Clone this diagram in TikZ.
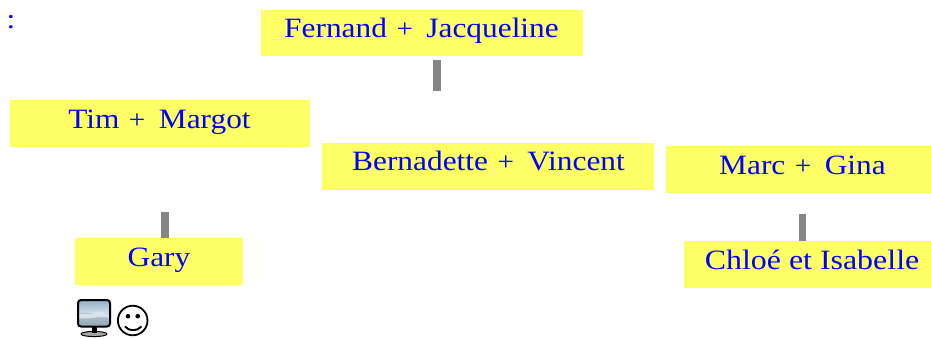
\documentclass[tikz,border=0pt]{standalone}
\usepackage{fontspec}
\setmainfont{Liberation Serif}
\newfontfamily\widefont[FakeStretch=1.12]{Liberation Serif}
\newcommand{\plusgap}{\hspace{9.5pt}{\fontsize{26}{30}\selectfont+}\hspace{13.5pt}}
\definecolor{boxy}{HTML}{FFFF66}
\definecolor{barg}{HTML}{868686}
\definecolor{sTop}{HTML}{8FAFC6}
\definecolor{sMid}{HTML}{D5E2EA}
\definecolor{sLow}{HTML}{B5C6D2}
\definecolor{sBot}{HTML}{8FA6B6}
\tikzset{
  x=1pt,y=-1pt,
  fam/.style={fill=boxy,draw=none,inner sep=0pt,anchor=north west},
  lab/.style={inner sep=0pt,text=blue,anchor=base,font=\widefont\fontsize{28}{30}\selectfont},
  bar/.style={draw=barg,line width=7.5pt}
}
\begin{document}
\begin{tikzpicture}
\useasboundingbox (0,0) rectangle (931,338);
\node[fam,minimum width=322pt,minimum height=46pt] (fj) at (261,9.5) {};
\node[lab] at (421.5,37) {Fernand\plusgap Jacqueline};
\node[fam,minimum width=300pt,minimum height=47pt] (tm) at (10,100) {};
\node[lab] at (159.5,128) {Tim\plusgap Margot};
\node[fam,minimum width=332pt,minimum height=47pt] (bv) at (322,143) {};
\node[lab] at (488.5,170) {Bernadette\plusgap Vincent};
\node[fam,minimum width=265pt,minimum height=47pt] (mg) at (666,146) {};
\node[lab] at (802.5,174) {Marc\plusgap Gina};
\node[fam,minimum width=168pt,minimum height=47pt] (ga) at (75,238) {};
\node[lab] at (159,266) {Gary};
\node[fam,minimum width=247pt,minimum height=47pt] (ci) at (684,241) {};
\node[lab] at (812,269) {\addfontfeature{FakeStretch=1.14}Chloé et Isabelle};
\coordinate (a1) at (437,60);
\coordinate (a2) at (437,91);
\draw[bar] (a1) -- (a2);
\coordinate (b1) at (165,212);
\coordinate (b2) at (165,238);
\draw[bar] (b1) -- (b2);
\coordinate (c1) at (802.5,214);
\coordinate (c2) at (802.5,241);
\draw[bar] (c1) -- (c2);
\node[lab] (col) at (11,28.5) {:};
% smiley icon
\draw[black,line width=1.8pt] (132.7,320.5) circle [radius=14.8];
\fill[black] (128,316.2) circle [radius=2.3];
\fill[black] (137.7,316.2) circle [radius=2.3];
\draw[black,line width=1.9pt] (125,326.5) .. controls (129,331.5) and (137,331.5) .. (141.5,326.5);
% monitor icon
\fill[gray!70,draw=black,line width=1pt] (94,334) ellipse [x radius=13,y radius=2.6];
\fill[black] (91.5,326) rectangle (96.5,333);
\shade[top color=sTop,bottom color=sMid,rounded corners=3pt] (78,300) rectangle (110,314);
\shade[top color=sLow,bottom color=sBot] (78,313) rectangle (110,326.5);
\fill[sMid] (78.5,314.5) .. controls (84,312) and (88,317) .. (94,312) .. controls (99,310) and (104,313) .. (109.5,314) -- (109.5,318) .. controls (100,315) and (88,320) .. (78.5,318) -- cycle;
\draw[black,line width=2pt,rounded corners=3pt] (78,300) rectangle (110,326.5);
\end{tikzpicture}
\end{document}
